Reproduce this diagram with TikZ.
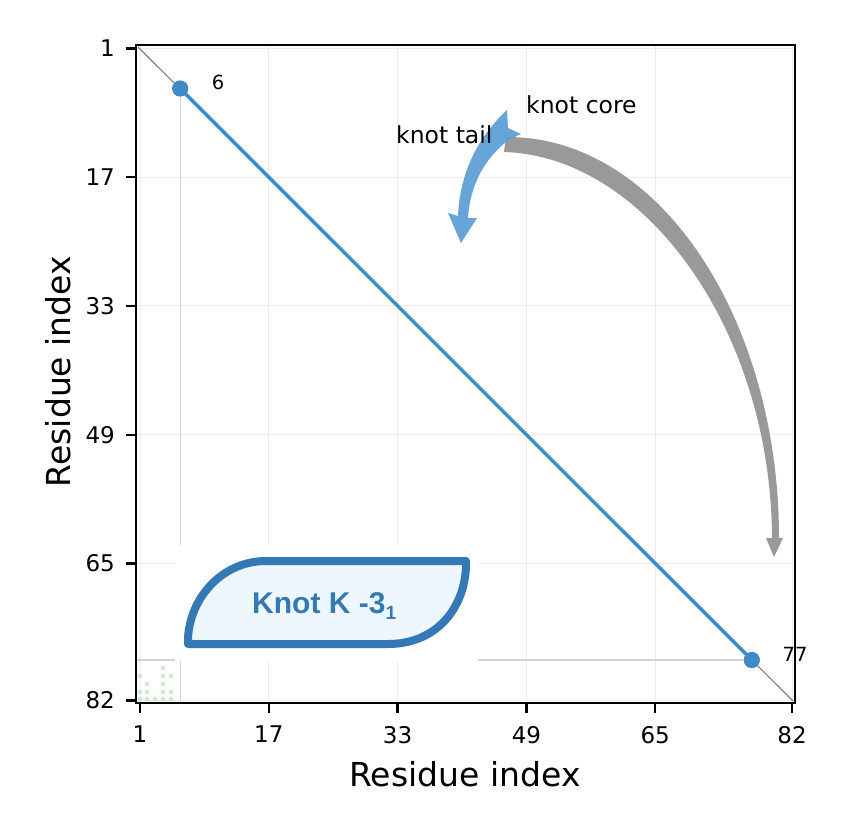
\documentclass[tikz,border=0pt]{standalone}
\usepackage{fontspec}
\setmainfont{DejaVu Sans}
\newfontfamily\labfont{Liberation Sans}
\definecolor{lineblue}{RGB}{64,138,202}
\definecolor{arrowblue}{RGB}{91,157,213}
\definecolor{arrowgray}{RGB}{153,153,153}
\definecolor{boxstroke}{RGB}{52,121,182}
\definecolor{boxfill}{RGB}{238,246,254}
\definecolor{gridgray}{RGB}{236,236,236}
\definecolor{projgray}{RGB}{212,212,212}
\definecolor{diaggray}{RGB}{128,128,128}
\definecolor{faintgreen}{RGB}{205,232,205}
\begin{document}
\begin{tikzpicture}[x=1pt,y=-1pt,
  gridline/.style={draw=gridgray, line width=1pt},
  projline/.style={draw=projgray, line width=1.2pt},
  ticklab/.style={font=\fontsize{23}{23}\selectfont, inner sep=0pt},
  axlab/.style={font=\fontsize{33}{33}\selectfont, inner sep=0pt},
  annot/.style={font=\fontsize{23.5}{23.5}\selectfont, inner sep=0pt},
  smalllab/.style={font=\fontsize{19.5}{19.5}\selectfont, inner sep=0pt},
  enddot/.style={circle, fill=lineblue, minimum size=16pt, inner sep=0pt},
  tickmark/.style={line width=2.4pt},
  spine/.style={line width=1.6pt},
  knotbox/.style={draw=boxstroke, fill=boxfill, line width=8pt, line join=round},
  contact/.style={fill=faintgreen, draw=none}]
\useasboundingbox (0,0) rectangle (842,820);
\fill[white] (0,0) rectangle (842,820);
% grid
\foreach \i in {1,17,33,49,65,82} {
  \pgfmathsetmacro\X{140+(\i-1)*8.05}
  \pgfmathsetmacro\Y{48.3+(\i-1)*8.05}
  \draw[gridline] (\X,45) -- (\X,703);
  \draw[gridline] (136,\Y) -- (795,\Y);
}
% coordinates
\coordinate (c1) at (138,47);
\coordinate (c82) at (793,701);
\node[enddot] (d6) at (180.2,88.5) {};
\node[enddot] (d77) at (751.8,660) {};
\coordinate (p6) at (180.2,703);
\coordinate (p77) at (136,660);
% projection lines
\draw[projline] (d6.center) -- (p6);
\draw[projline] (p77) -- (d77.center);
% faint contact cells
\foreach \cx/\cy in {163/668,140/676,163/676,171/676,147/684,163/684,140/692,147/692,163/692,171/692,140/699,147/699,155/699,163/699,171/699}
  \fill[contact] (\cx,\cy) circle (2.3);
% diagonal
\draw[draw=diaggray, line width=1.1pt] (c1) -- (c82);
% knot chain
\draw[draw=lineblue, line width=3.5pt] (d6.center) -- (d77.center);
\node[enddot] at (d6) {};
\node[enddot] at (d77) {};
% white panel behind label
\fill[white] (175,545) rectangle (478,661);
% gray arrow
\fill[arrowgray] (506,137) .. controls (660,136) and (779,320) .. (779,538)
  -- (783,538) -- (774,557) -- (766,538) -- (772,538)
  .. controls (771,330) and (645,156) .. (504,152) -- cycle;
% blue arrow
\fill[arrowblue, opacity=0.92] (507,110) .. controls (480,135) and (460,170) .. (458,216)
  -- (448,213) -- (461,243) -- (477,218) -- (468,218)
  .. controls (470,185) and (485,157) .. (510,139) -- (521,134) -- (508,128) -- cycle;
% annotations
\node[annot, anchor=base west] (core) at (526,113.5) {knot core};
\node[annot, anchor=base west] (tail) at (396,143) {knot tail};
\node[smalllab] (l6) at (218,82) {6};
\node[smalllab] (l77) at (795,654) {77};
% knot label
\draw[knotbox] (188,644) -- (188,638) .. controls (190,598) and (222,561) .. (266,561)
  -- (466,561) -- (466,567) .. controls (464,610) and (435,644) .. (388,644) -- cycle;
\node[inner sep=0pt, anchor=base west, text=boxstroke,
  font=\labfont\bfseries\fontsize{30}{30}\selectfont] (klabel) at (252,613)
  {Knot K -3\raisebox{-0.22em}{\fontsize{19}{19}\selectfont 1}};
% spines
\draw[spine] (136,45) rectangle (795,703);
% ticks and labels
\foreach \i in {1,17,33,49,65,82} {
  \pgfmathsetmacro\X{140+(\i-1)*8.05}
  \pgfmathsetmacro\Y{48.3+(\i-1)*8.05}
  \draw[tickmark] (126,\Y) -- (136,\Y);
  \draw[tickmark] (\X,703) -- (\X,713);
  \node[ticklab, anchor=east] (yl\i) at (115,\Y) {\i};
  \node[ticklab, anchor=north] (xl\i) at (\X,726) {\i};
}
\node[axlab, anchor=base] (xlab) at (465,786) {Residue index};
\node[axlab, anchor=base, rotate=90] (ylab) at (70,371.5) {Residue index};
\end{tikzpicture}
\end{document}
